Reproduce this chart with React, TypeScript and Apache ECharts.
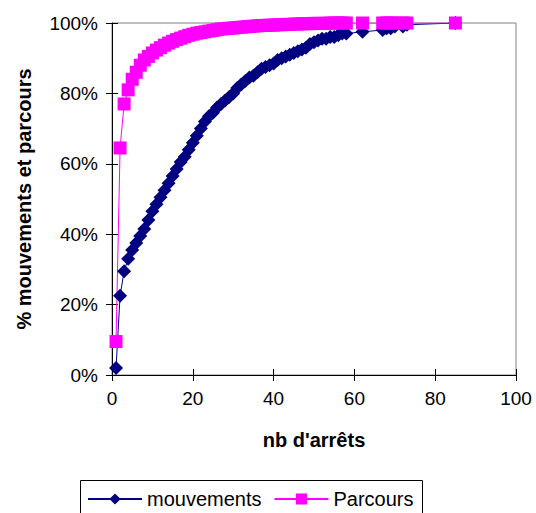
import React, { useEffect, useRef } from "react";
import * as echarts from "echarts";

const mouvementsX = [1,2,3,4,5,6,7,8,9,10,11,12,13,14,15,16,17,18,19,20,21,22,23,24,25,26,27,28,29,30,31,32,33,34,35,36,37,38,39,40,41,42,43,44,45,46,47,48,49,50,51,52,53,54,55,56,57,58,62,67,68,69,70,72,73,85];
const mouvementsY = [2,22.5,29.5,33,35.5,37.5,39.5,41.5,44,46.5,48.5,50.5,52.5,54.5,56.5,58.5,60.5,62,64,66,68,70,72,73.5,74.5,76,77,78,79,80,81.5,82.5,83.5,84.5,85,86,87,87.5,88,88.5,89.5,90,90.5,91,91.5,92,92.5,93,94,94.5,95,95.5,95.5,96,96,96.5,97,97,97.5,98,98.5,98.5,99,99,99.5,100];

const parcoursX = [1,2,3,4,5,6,7,8,9,10,11,12,13,14,15,16,17,18,19,20,21,22,23,24,25,26,27,28,29,30,31,32,33,34,35,36,37,38,39,40,41,42,43,44,45,46,47,48,49,50,51,52,53,54,55,56,57,58,62,67,68,69,70,72,73,85];
const parcoursY = [9.5,64.5,77,81,84,86,88,89.5,90.5,91.5,92.3,93,93.7,94.3,94.8,95.3,95.7,96.1,96.5,96.8,97.1,97.3,97.5,97.7,97.9,98.1,98.3,98.4,98.5,98.6,98.7,98.8,98.9,99,99.1,99.2,99.3,99.3,99.4,99.4,99.5,99.5,99.6,99.6,99.7,99.7,99.8,99.8,99.8,99.9,99.9,99.9,99.9,100,100,100,100,100,100,100,100,100,100,100,100,100];

const xTicks = { min: 0, max: 100, interval: 20 };
const yTicks = { min: 0, max: 100, interval: 20 };
const seriesNames = ["mouvements", "Parcours"];

const FONT = "'Liberation Sans', Arial, sans-serif";

export default function App() {
  const ref = useRef<HTMLDivElement>(null);
  useEffect(() => {
    if (!ref.current) return;
    const chart = echarts.init(ref.current, null, { renderer: "svg" });
    const mData = mouvementsX.map((x, i) => [x, mouvementsY[i]]);
    const pData = parcoursX.map((x, i) => [x, parcoursY[i]]);
    const tickInside = { show: true, inside: true, length: 6, lineStyle: { color: "#000", width: 1 } };
    chart.setOption({
      animation: false,
      backgroundColor: "#fff",
      grid: {
        left: 112, right: 20, top: 23, bottom: 138,
        show: true, borderColor: "#808080", borderWidth: 1, backgroundColor: "transparent",
      },
      xAxis: [
        {
          type: "value", ...xTicks, position: "bottom",
          name: "nb d'arrêts", nameLocation: "middle", nameGap: 55,
          nameTextStyle: { fontFamily: FONT, fontSize: 20, fontWeight: "bold", color: "#000" },
          axisLine: { show: true, lineStyle: { color: "#000", width: 1 } },
          axisTick: { show: true, inside: false, length: 6, lineStyle: { color: "#000", width: 1 } },
          axisLabel: { fontFamily: FONT, fontSize: 19, color: "#000", margin: 14 },
          splitLine: { show: false },
        },
        {
          type: "value", ...xTicks, position: "bottom",
          axisLine: { show: false }, axisTick: tickInside,
          axisLabel: { show: false }, splitLine: { show: false },
        },
      ],
      yAxis: [
        {
          type: "value", ...yTicks, position: "left",
          name: "% mouvements et parcours", nameLocation: "middle", nameGap: 78,
          nameTextStyle: { fontFamily: FONT, fontSize: 20, fontWeight: "bold", color: "#000" },
          axisLine: { show: true, lineStyle: { color: "#000", width: 1 } },
          axisTick: { show: true, inside: false, length: 6, lineStyle: { color: "#000", width: 1 } },
          axisLabel: { fontFamily: FONT, fontSize: 19, color: "#000", margin: 14, formatter: "{value}%" },
          splitLine: { show: false },
        },
        {
          type: "value", ...yTicks, position: "left",
          axisLine: { show: false }, axisTick: tickInside,
          axisLabel: { show: false }, splitLine: { show: false },
        },
      ],
      legend: {
        left: 82, top: 484,
        itemWidth: 54, itemHeight: 14, itemGap: 12,
        textStyle: { fontFamily: FONT, fontSize: 20, color: "#000" },
        data: seriesNames,
      },
      graphic: [
        {
          type: "rect",
          shape: { x: 80.5, y: 480.5, width: 342, height: 40 },
          style: { fill: "none", stroke: "#000", lineWidth: 1 },
          silent: true,
        },
      ],
      series: [
        {
          name: seriesNames[0], type: "line", xAxisIndex: 0, yAxisIndex: 0,
          data: mData, symbol: "diamond", symbolSize: 14, showSymbol: true,
          lineStyle: { color: "#000080", width: 1 },
          itemStyle: { color: "#000080" },
        },
        {
          name: seriesNames[1], type: "line", xAxisIndex: 0, yAxisIndex: 0,
          data: pData, symbol: "rect", symbolSize: 13, showSymbol: true,
          lineStyle: { color: "#FF00FF", width: 1 },
          itemStyle: { color: "#FF00FF" },
        },
      ],
    });
    return () => chart.dispose();
  }, []);
  return <div ref={ref} style={{ width: 536, height: 513, position: "absolute", left: 0, top: 0 }} />;
}
